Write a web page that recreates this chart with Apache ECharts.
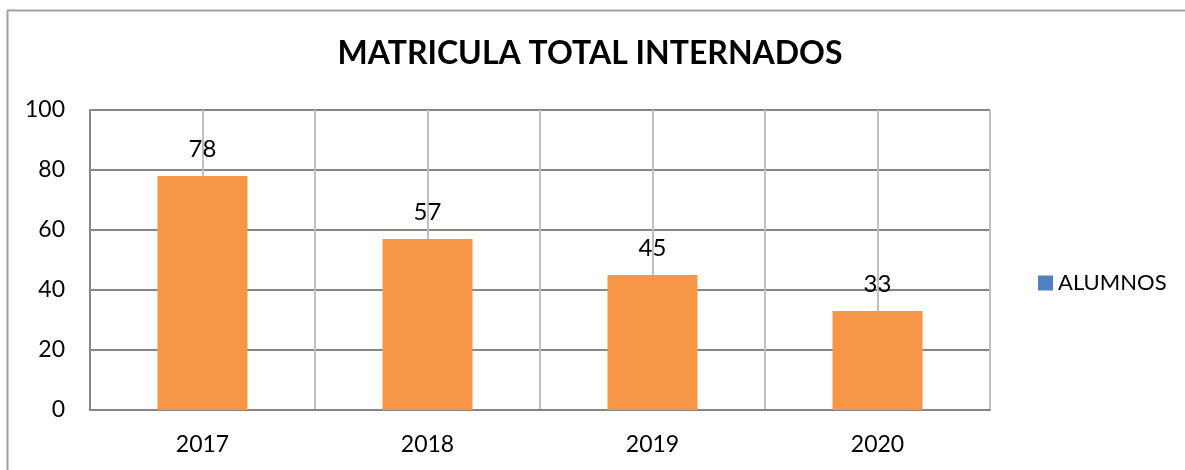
<!DOCTYPE html>
<html>
<head>
<meta charset="utf-8">
<script src="https://cdn.jsdelivr.net/npm/echarts@6/dist/echarts.min.js"></script>
<style>
  html, body { margin: 0; padding: 0; background: #fff; }
  #chart { width: 1185px; height: 470px; }
</style>
</head>
<body>
<div id="chart"></div>
<script>
// datos
const years = ["2017", "2018", "2019", "2020"]
const alumnos = [78, 57, 45, 33]
const yTicks = [0, 20, 40, 60, 80, 100]

const font = "Lato"
const chart = echarts.init(document.getElementById("chart"))

let option = {
  animation: false,
  backgroundColor: "#fff",
  title: {
    text: "MATRICULA TOTAL INTERNADOS",
    left: 585,
    textAlign: "center",
    top: 33,
    textStyle: {
      fontFamily: font,
      fontWeight: "bold",
      fontSize: 32,
      color: "#000"
    }
  },
  legend: {
    left: 1033,
    top: 267,
    itemWidth: 15,
    itemHeight: 15,
    itemGap: 6,
    icon: "rect",
    data: [{ name: "ALUMNOS", itemStyle: { color: "#4f81bd" } }],
    textStyle: { fontFamily: font, fontSize: 22, color: "#000", padding: [0, 0, 0, 0] }
  },
  grid: {
    left: 90,
    right: 195,
    top: 110,
    bottom: 60
  },
  //graphic: marco exterior
  graphic: [
    {
      type: "polyline",
      shape: { points: [[7.5, 470], [7.5, 10.5], [1185, 10.5]] },
      style: { stroke: "#a0a0a0", lineWidth: 2, fill: null },
      silent: true
    }
  ],
  xAxis: [
    {
      type: "category",
      data: years,
      axisTick: { show: false },
      axisLine: { show: true, lineStyle: { color: "#868686", width: 2 } },
      axisLabel: { margin: 23, fontFamily: font, fontSize: 23, color: "#000" },
      splitLine: { show: false }
    },
    {
      // lineas verticales cada media categoria
      type: "value",
      min: 0,
      max: 4,
      interval: 0.5,
      show: true,
      position: "top",
      axisLine: { show: false },
      axisTick: { show: false },
      axisLabel: { show: false },
      splitLine: { show: true, lineStyle: { color: "#bfbfbf", width: 2 } }
    }
  ],
  yAxis: {
    type: "value",
    min: yTicks[0],
    max: yTicks[yTicks.length - 1],
    interval: 20,
    axisLine: { show: true, lineStyle: { color: "#868686", width: 2 } },
    axisTick: { show: false },
    axisLabel: { margin: 25, fontFamily: font, fontSize: 23, color: "#000" },
    splitLine: { show: true, lineStyle: { color: "#868686", width: 2 } }
  },
  series: [
    {
      name: "ALUMNOS",
      type: "bar",
      data: alumnos,
      barWidth: "40%",
      z: 3,
      itemStyle: { color: "#f79646" },
      label: {
        show: true,
        position: "top",
        distance: 15,
        fontFamily: font,
        fontSize: 24,
        color: "#000"
      }
    }
  ]
}
chart.setOption(option)
</script>
</body>
</html>
